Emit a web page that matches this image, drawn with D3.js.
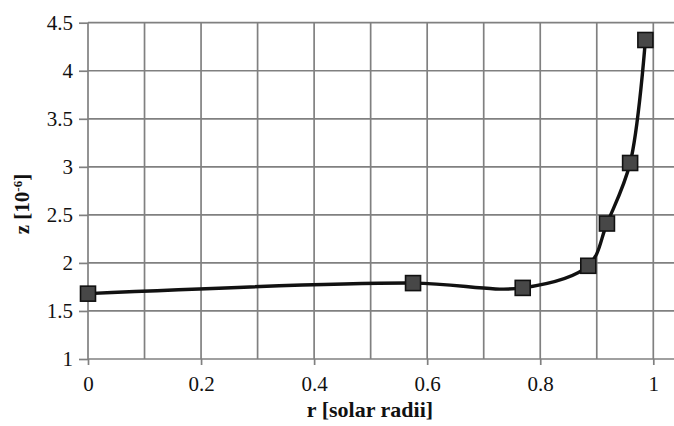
<!DOCTYPE html>
<html>
<head>
<meta charset="utf-8">
<script src="https://cdn.jsdelivr.net/npm/d3@7"></script>
<style>
  html, body { margin: 0; padding: 0; background: #fff; }
  svg { display: block; }
</style>
</head>
<body>
<svg id="chart" width="674" height="426"></svg>
<script>
// Radial profile of z across the solar interior
const radius = [0, 0.575, 0.769, 0.885, 0.918, 0.959, 0.986];
const zValues = [1.68, 1.79, 1.74, 1.97, 2.41, 3.04, 4.32];
const xTicks = [0, 0.2, 0.4, 0.6, 0.8, 1];
const xGrid = [0, 0.1, 0.2, 0.3, 0.4, 0.5, 0.6, 0.7, 0.8, 0.9, 1];
const yTicks = [1, 1.5, 2, 2.5, 3, 3.5, 4, 4.5];

(function () {
const svg = d3.select("#chart");
const plotLeft = 88, plotRight = 674, plotTop = 22.7, plotBottom = 359;

const x = d3.scaleLinear().domain([0, 1]).range([plotLeft, 653.3]);
const y = d3.scaleLinear().domain([1, 4.5]).range([plotBottom, plotTop]);
const xMax = x.invert(plotRight);

const serif = "'Liberation Serif', 'Times New Roman', Times, serif";
const gridColor = "#808080";

// grid
const grid = svg.append("g");
grid.selectAll("line.v").data(xGrid).join("line")
  .attr("class", "v")
  .attr("x1", d => x(d)).attr("x2", d => x(d))
  .attr("y1", plotTop).attr("y2", plotBottom)
  .attr("stroke", gridColor).attr("stroke-width", 1.7);
grid.selectAll("line.h").data(yTicks).join("line")
  .attr("class", "h")
  .attr("x1", plotLeft).attr("x2", x(xMax))
  .attr("y1", d => y(d)).attr("y2", d => y(d))
  .attr("stroke", gridColor).attr("stroke-width", 1.7);

// axes
const xAxis = svg.append("g")
  .attr("transform", `translate(0,${plotBottom})`)
  .call(d3.axisBottom(x).tickValues(xTicks).tickSize(6).tickPadding(11)
    .tickFormat(d => d3.format("~g")(d)));
xAxis.select(".domain").remove();
xAxis.selectAll(".tick line").attr("stroke", gridColor).attr("stroke-width", 1.7);
xAxis.selectAll(".tick text")
  .attr("font-family", serif).attr("font-size", 21).attr("fill", "#111");

const yAxis = svg.append("g")
  .attr("transform", `translate(${plotLeft},0)`)
  .call(d3.axisLeft(y).tickValues(yTicks).tickSize(9).tickPadding(6)
    .tickFormat(d => d3.format("~g")(d)));
yAxis.select(".domain").remove();
yAxis.selectAll(".tick line").attr("stroke", gridColor).attr("stroke-width", 1.7);
yAxis.selectAll(".tick text")
  .attr("font-family", serif).attr("font-size", 21).attr("fill", "#111");

// axis titles
svg.append("text")
  .attr("x", 370).attr("y", 417)
  .attr("text-anchor", "middle")
  .attr("font-family", serif).attr("font-size", 22).attr("font-weight", "bold")
  .attr("fill", "#111")
  .text("r [solar radii]");

const yTitle = svg.append("text")
  .attr("transform", "translate(29,204) rotate(-90)")
  .attr("text-anchor", "middle")
  .attr("font-family", serif).attr("font-size", 21).attr("font-weight", "bold")
  .attr("fill", "#111");
yTitle.append("tspan").text("z [10");
yTitle.append("tspan").attr("baseline-shift", "super").attr("font-size", 13).text("-6");
yTitle.append("tspan").text("]");

// smoothed curve through the data
const pts = radius.map((r, i) => [r, zValues[i]]);
svg.append("path")
  .datum(pts)
  .attr("fill", "none")
  .attr("stroke", "#111")
  .attr("stroke-width", 3.4)
  .attr("d", d3.line().x(d => x(d[0])).y(d => y(d[1])).curve(d3.curveCatmullRom.alpha(0.5)));

// square markers
const s = 15;
svg.selectAll("rect.marker").data(pts).join("rect")
  .attr("class", "marker")
  .attr("x", d => x(d[0]) - s / 2)
  .attr("y", d => y(d[1]) - s / 2)
  .attr("width", s).attr("height", s)
  .attr("fill", "#474747")
  .attr("stroke", "#111")
  .attr("stroke-width", 1.6);
})();
</script>
</body>
</html>
